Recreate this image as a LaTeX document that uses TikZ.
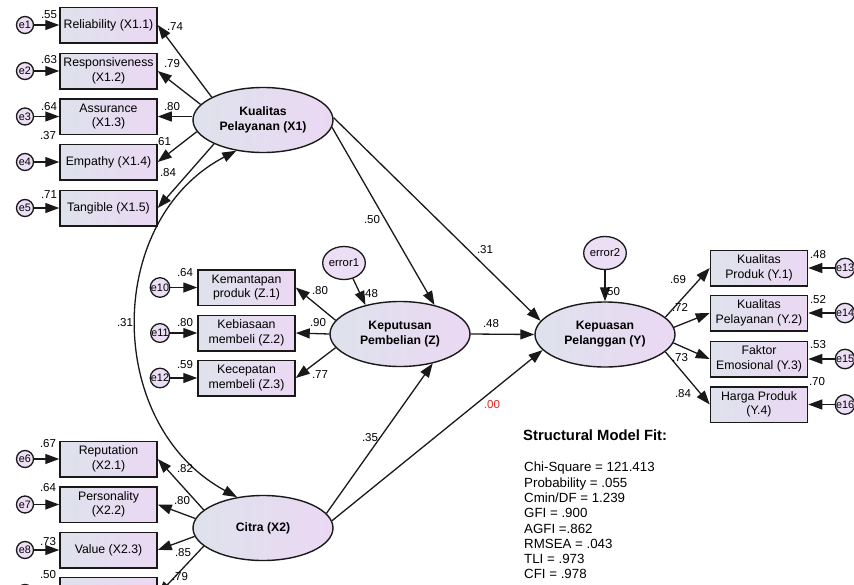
\documentclass[tikz,border=0pt]{standalone}
\usepackage{fontspec}
\setmainfont{Liberation Sans}
\usetikzlibrary{arrows.meta,shapes.geometric}
\definecolor{shL}{RGB}{222,226,236}
\definecolor{shR}{RGB}{235,216,243}
\definecolor{efill}{RGB}{236,222,244}
\definecolor{lineC}{RGB}{25,25,25}
\definecolor{redC}{RGB}{222,35,35}
\tikzset{
  obs/.style={draw=lineC, line width=1.5pt, left color=shL, right color=shR, minimum width=97pt, minimum height=35.5pt, inner sep=1pt, align=center, font=\fontsize{12.3}{14.5}\selectfont},
  lat/.style={ellipse, draw=lineC, line width=1.4pt, left color=shL, right color=shR, minimum width=140pt, minimum height=65pt, inner sep=0pt, align=center, font=\fontsize{12.2}{15}\selectfont\bfseries},
  errc/.style={circle, draw=lineC, line width=1.3pt, fill=efill, minimum size=17pt, inner sep=0pt, font=\fontsize{10.8}{12}\selectfont},
  distnode/.style={ellipse, draw=lineC, line width=1.3pt, fill=efill, minimum width=41pt, minimum height=33pt, inner sep=0pt, font=\fontsize{11.3}{12}\selectfont},
  lbl/.style={font=\fontsize{11.5}{13}\selectfont, inner sep=0pt},
  arr/.style={draw=lineC, line width=1.3pt, -{Triangle[length=14pt,width=10pt]}},
  cov/.style={draw=lineC, line width=1.3pt, {Triangle[length=14pt,width=10pt]}-{Triangle[length=14pt,width=10pt]}},
}
\begin{document}
\begin{tikzpicture}[x=1pt,y=-1pt]
\path[use as bounding box] (0,0) rectangle (854,584);
\clip (0,0) rectangle (854,584);
% observed boxes X1
\node[obs] (r11) at (108.5,25) {Reliability (X1.1)};
\node[obs] (r12) at (108.5,71) {Responsiveness\\(X1.2)};
\node[obs] (r13) at (108.5,116.5) {Assurance\\(X1.3)};
\node[obs] (r14) at (108.5,162) {Empathy (X1.4)};
\node[obs] (r15) at (108.5,208) {Tangible (X1.5)};
% observed boxes X2
\node[obs] (r21) at (108.5,459) {Reputation\\(X2.1)};
\node[obs] (r22) at (108.5,504.5) {Personality\\(X2.2)};
\node[obs] (r23) at (108.5,550) {Value (X2.3)};
\node[obs] (r24) at (108.5,595) {};
% observed boxes Z
\node[obs] (z1) at (246.5,287.5) {Kemantapan\\produk (Z.1)};
\node[obs] (z2) at (246.5,333) {Kebiasaan\\membeli (Z.2)};
\node[obs] (z3) at (246.5,378) {Kecepatan\\membeli (Z.3)};
% observed boxes Y
\node[obs] (y1) at (759,268) {Kualitas\\Produk (Y.1)};
\node[obs] (y2) at (759,313) {Kualitas\\Pelayanan (Y.2)};
\node[obs] (y3) at (759,359) {Faktor\\Emosional (Y.3)};
\node[obs] (y4) at (759,404.5) {Harga Produk\\(Y.4)};
% latent
\node[lat] (X1) at (263,120) {Kualitas\\Pelayanan (X1)};
\node[lat] (X2) at (263,528) {Citra (X2)};
\node[lat] (Z) at (400,334) {Keputusan\\Pembelian (Z)};
\node[lat] (Y) at (605,334.5) {Kepuasan\\Pelanggan (Y)};
% errors
\node[errc] (e1) at (25,25) {e1};
\node[errc] (e2) at (25,71) {e2};
\node[errc] (e3) at (25,116.5) {e3};
\node[errc] (e4) at (25,162) {e4};
\node[errc] (e5) at (25,208) {e5};
\node[errc] (e6) at (25,459) {e6};
\node[errc] (e7) at (25,504.5) {e7};
\node[errc] (e8) at (25,550) {e8};
\node[errc] (e9) at (25,593) {};
\node[errc] (e10) at (160,287.5) {e10};
\node[errc] (e11) at (160,333) {e11};
\node[errc] (e12) at (160,378) {e12};
\node[errc] (e13) at (845,268) {e13};
\node[errc] (e14) at (845,313) {e14};
\node[errc] (e15) at (845,359) {e15};
\node[errc] (e16) at (845,404.5) {e16};
\node[distnode] (error1) at (344,263) {error1};
\node[distnode] (error2) at (605,253) {error2};
% error arrows
\foreach \e/\b in {e1/r11,e2/r12,e3/r13,e4/r14,e5/r15,e6/r21,e7/r22,e8/r23,e10/z1,e11/z2,e12/z3,e13/y1,e14/y2,e15/y3,e16/y4}
  \draw[arr] (\e) -- (\b);
\draw[arr] (e9.east) -- (r24.west |- e9.east);
\draw[arr] (error1.300) -- (Z.140);
\draw[arr] (error2.south) -- (Y.north);
% loadings
\draw[arr] (X1.156) -- (r11.east);
\draw[arr] (X1.166) -- (r12.east);
\draw[arr] (X1.west |- r13) -- (r13.east);
\draw[arr] (X1.190) -- (r14.east);
\draw[arr] (X1.206) -- (r15.east);
\draw[arr] (X2.163) -- (r21.east);
\draw[arr] (X2.172.5) -- (r22.east);
\draw[arr] (X2.187) -- (r23.east);
\draw[arr] (X2.197) -- (r24.east);
\draw[arr] (Z.168) -- (z1.east);
\draw[arr] (Z.west) -- (z2.east);
\draw[arr] (Z.192) -- (z3.east);
\draw[arr] (Y.16) -- (y1.west);
\draw[arr] (Y.6) -- (y2.west);
\draw[arr] (Y.353) -- (y3.west);
\draw[arr] (Y.344) -- (y4.west);
% structural
\draw[arr] (X1.2) -- (Y.168);
\draw[arr] (X1.354) -- (Z.40);
\draw[arr] (Z.east) -- (Y.west);
\draw[arr] (X2.13) -- (Z.318);
\draw[arr] (X2.6) -- (Y.194);
\draw[cov] (X1.229) .. controls (104,220) and (104,425) .. (X2.130);
% variance labels
\node[lbl] (v1) at (49,15) {.55};
\node[lbl] (v2) at (49,60) {.63};
\node[lbl] (v3) at (49,107) {.64};
\node[lbl] (v4) at (48,136) {.37};
\node[lbl] (v5) at (49,195) {.71};
\node[lbl] (v6) at (48,444) {.67};
\node[lbl] (v7) at (48,488) {.64};
\node[lbl] (v8) at (48,542) {.73};
\node[lbl] (v9) at (48,575) {.50};
\node[lbl] (v10) at (185,273) {.64};
\node[lbl] (v11) at (185,323) {.80};
\node[lbl] (v12) at (185,365) {.59};
\node[lbl] (v13) at (818,255) {.48};
\node[lbl] (v14) at (818,300) {.52};
\node[lbl] (v15) at (818,345) {.53};
\node[lbl] (v16) at (817,382) {.70};
\node[lbl] (vz) at (370,294) {.48};
\node[lbl] (vy) at (612,292) {.50};
% loading labels
\node[lbl] (l11) at (175,27) {.74};
\node[lbl] (l12) at (172,64) {.79};
\node[lbl] (l13) at (172,107) {.80};
\node[lbl] (l14) at (163,142) {.61};
\node[lbl] (l15) at (168,173) {.84};
\node[lbl] (l21) at (185,469) {.82};
\node[lbl] (l22) at (182,501) {.80};
\node[lbl] (l23) at (183,553) {.85};
\node[lbl] (l24) at (180,577) {.79};
\node[lbl] (lz1) at (320,291) {.80};
\node[lbl] (lz2) at (318,323) {.90};
\node[lbl] (lz3) at (320,375) {.77};
\node[lbl] (ly1) at (678,280) {.69};
\node[lbl] (ly2) at (680,307) {.72};
\node[lbl] (ly3) at (680,358) {.73};
\node[lbl] (ly4) at (683,394) {.84};
% structural labels
\node[lbl] (s1) at (372,220) {.50};
\node[lbl] (s2) at (485,250) {.31};
\node[lbl] (s3) at (491,324) {.48};
\node[lbl] (s4) at (370,438) {.35};
\node[lbl, text=redC] (s5) at (492,405) {.00};
\node[lbl] (s6) at (125,323) {.31};
% fit
\node[anchor=west, inner sep=0pt, font=\fontsize{14.8}{17}\selectfont\bfseries] (fitT) at (523,435) {Structural Model Fit:};
\node[anchor=north west, inner sep=0pt, align=left, font=\fontsize{13.3}{15.3}\selectfont] (fitL) at (524,462) {Chi-Square = 121.413\\Probability = .055\\Cmin/DF = 1.239\\GFI = .900\\AGFI =.862\\RMSEA = .043\\TLI = .973\\CFI = .978};
\end{tikzpicture}
\end{document}
